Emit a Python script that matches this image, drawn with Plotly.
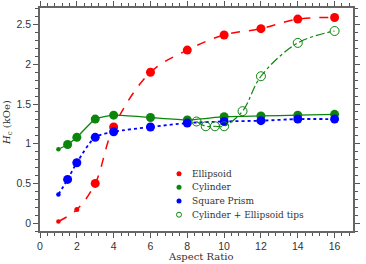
import plotly.graph_objects as go

# ---- data ----
ell_x = [1, 2, 3, 4, 6, 8, 10, 12, 14, 16]
ell_y = [0.02, 0.17, 0.50, 1.21, 1.90, 2.18, 2.37, 2.45, 2.57, 2.59]

cyl_x = [1, 1.5, 2, 3, 4, 6, 8, 10, 12, 14, 16]
cyl_y = [0.93, 0.99, 1.08, 1.31, 1.36, 1.33, 1.30, 1.34, 1.35, 1.36, 1.37]

sq_x = [1, 1.5, 2, 3, 4, 6, 8, 10, 12, 14, 16]
sq_y = [0.36, 0.55, 0.76, 1.08, 1.15, 1.21, 1.26, 1.28, 1.29, 1.31, 1.31]

tip_x = [8.5, 9, 9.5, 10, 11, 12, 14, 16]
tip_y = [1.28, 1.22, 1.22, 1.22, 1.41, 1.85, 2.27, 2.42]

legend_names = ["Ellipsoid", "Cylinder", "Square Prism", "Cylinder + Ellipsoid tips"]

x_ticks = [0, 2, 4, 6, 8, 10, 12, 14, 16]
y_ticks = [0, 0.5, 1, 1.5, 2, 2.5]
x_title = "Aspect Ratio"
y_title = "<i>H</i><sub>c</sub> (kOe)"

# ---- styles ----
RED, GREEN, BLUE = "#ff0000", "#0b860b", "#0000ff"
ell_sizes = [4.5, 5, 9, 9, 9, 9, 9, 9, 9, 9]
cyl_sizes = [4.5, 9, 9, 9, 9, 9, 9, 9, 9, 9, 9]
sq_sizes = [4.5, 9, 9, 9, 9, 9, 9, 9, 9, 9, 9]

fig = go.Figure()
fig.add_trace(go.Scatter(x=ell_x, y=ell_y, mode="lines+markers", name=legend_names[0],
                         line=dict(color=RED, width=1.5, dash="dash", shape="spline", smoothing=1.0),
                         marker=dict(color=RED, size=ell_sizes, opacity=1, line=dict(width=0))))
fig.add_trace(go.Scatter(x=cyl_x, y=cyl_y, mode="lines+markers", name=legend_names[1],
                         line=dict(color=GREEN, width=1.3, shape="spline", smoothing=0.5),
                         marker=dict(color=GREEN, size=cyl_sizes, opacity=1, line=dict(width=0))))
fig.add_trace(go.Scatter(x=sq_x, y=sq_y, mode="lines+markers", name=legend_names[2],
                         line=dict(color=BLUE, width=1.8, dash="dot", shape="spline", smoothing=0.8),
                         marker=dict(color=BLUE, size=sq_sizes, opacity=1, line=dict(width=0))))
fig.add_trace(go.Scatter(x=tip_x, y=tip_y, mode="lines+markers", name=legend_names[3],
                         line=dict(color=GREEN, width=1.2, dash="dashdot", shape="spline", smoothing=1.0),
                         marker=dict(color=GREEN, size=9, symbol="circle-open", opacity=1,
                                     line=dict(color=GREEN, width=1))))

plot_l, plot_r, plot_t, plot_b = 40, 353, 8, 231
W, H = 366, 264
pw, ph = plot_r - plot_l, plot_b - plot_t


def px_x(p):
    return (p - plot_l) / pw


def px_y(p):
    return (plot_b - p) / ph


# manual legend (compact spacing)
leg_colors = [RED, GREEN, BLUE, GREEN]
leg_y_px = [173.7, 187.3, 201.0, 214.7]
for i, name in enumerate(legend_names):
    yp = px_y(leg_y_px[i])
    open_c = (i == 3)
    fig.add_shape(type="circle", xref="paper", yref="paper", xsizemode="pixel", ysizemode="pixel",
                  xanchor=px_x(179), yanchor=yp, x0=-2.5, x1=2.5, y0=-2.5, y1=2.5,
                  fillcolor="rgba(0,0,0,0)" if open_c else leg_colors[i],
                  line=dict(color=leg_colors[i], width=1 if open_c else 0))
    fig.add_annotation(x=px_x(190), y=yp, xref="paper", yref="paper", text=name, showarrow=False,
                       xanchor="left", yanchor="middle",
                       font=dict(family="DejaVu Serif", size=9, color="#333333"))

# axis titles
fig.add_annotation(x=px_x(200.5), y=px_y(256), xref="paper", yref="paper", text=x_title,
                   showarrow=False, xanchor="center", yanchor="middle",
                   font=dict(family="DejaVu Serif", size=10, color="#333333"))
fig.add_annotation(x=px_x(8), y=px_y(123), xref="paper", yref="paper", text=y_title,
                   showarrow=False, xanchor="center", yanchor="middle", textangle=-90,
                   font=dict(family="DejaVu Serif", size=10, color="#333333"))

axis_common = dict(showline=True, linecolor="#666666", linewidth=1.5, mirror="ticks",
                   ticks="outside", ticklen=5, tickwidth=1, tickcolor="#555555",
                   showgrid=False, zeroline=False, automargin=False,
                   tickfont=dict(family="Liberation Sans", size=10.5, color="#333333"))

fig.update_xaxes(range=[0, 17], tickvals=x_ticks, ticktext=[str(v) for v in x_ticks],
                 minor=dict(dtick=0.4, tick0=0, ticks="outside", ticklen=3, tickcolor="#555555", showgrid=False),
                 **axis_common)
fig.update_yaxes(range=[-0.1, 2.71], tickvals=y_ticks, ticktext=[f"{v:g}" for v in y_ticks],
                 minor=dict(dtick=0.1, tick0=0, ticks="outside", ticklen=3, tickcolor="#555555", showgrid=False),
                 **axis_common)

fig.update_layout(width=W, height=H, showlegend=False,
                  margin=dict(l=plot_l, r=W - plot_r, t=plot_t, b=H - plot_b),
                  paper_bgcolor="white", plot_bgcolor="white")

fig.write_html("out.html", config={"displayModeBar": False},
               post_script="document.body.style.margin='0';document.body.style.overflow='hidden';")
